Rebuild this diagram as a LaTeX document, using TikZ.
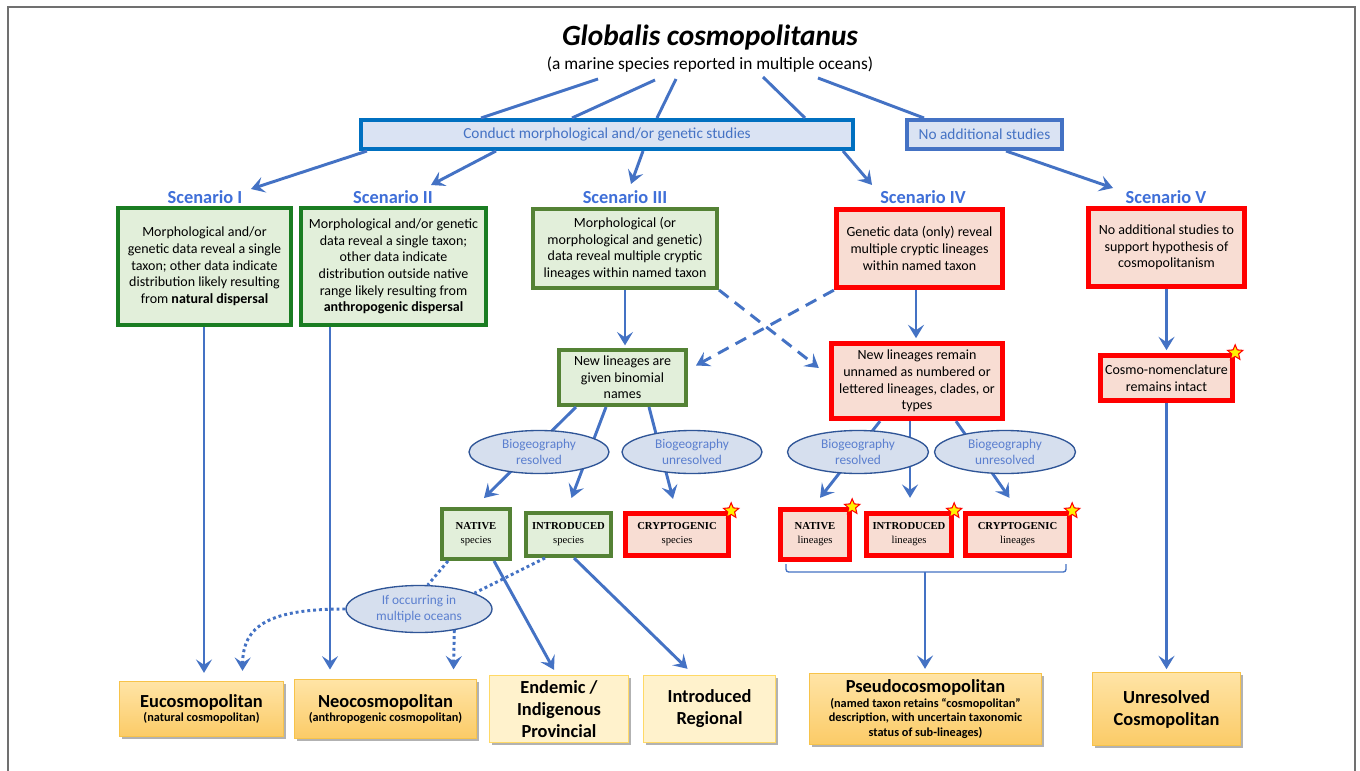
\documentclass[tikz,border=0pt]{standalone}
\usepackage{fontspec}
\setmainfont{Carlito}
\newfontfamily\timesf{Liberation Serif}
\usetikzlibrary{arrows.meta,shapes.geometric,shadows}
\definecolor{cblue}{HTML}{4472C4}
\definecolor{sblue}{HTML}{3F6FD8}
\definecolor{dblue}{HTML}{0070C0}
\definecolor{gfill}{HTML}{E2EFDA}
\definecolor{gbright}{HTML}{1A7D22}
\definecolor{golive}{HTML}{548235}
\definecolor{rfill}{HTML}{F8DDD3}
\definecolor{efill}{HTML}{D6DFEE}
\definecolor{eborder}{HTML}{2F5597}
\definecolor{etext}{HTML}{5B7FCF}
\definecolor{bfill}{HTML}{DAE3F3}
\definecolor{otop}{HTML}{FFE4A6}
\definecolor{obot}{HTML}{FBCB67}
\definecolor{oborder}{HTML}{F7C34A}
\definecolor{lfill}{HTML}{FFF2CC}
\definecolor{lborder}{HTML}{FFD966}
\definecolor{framegray}{HTML}{707070}
\begin{document}
\begin{tikzpicture}[x=0.75pt,y=-0.75pt,
  sz/.style 2 args={minimum width=#1*0.75pt,minimum height=#2*0.75pt},
  base/.style={inner sep=0pt,align=center,font=\fontsize{10.5}{12.5}\selectfont},
  gbox/.style={base,draw=gbright,line width=3pt,fill=gfill},
  obox/.style={base,draw=golive,line width=3pt,fill=gfill},
  rbox/.style={base,draw=red,line width=4pt,fill=rfill},
  bbox/.style={base,fill=bfill,line width=3pt,text=cblue,font=\fontsize{11.5}{13}\selectfont},
  ell/.style={ellipse,draw=eborder,line width=1pt,fill=efill,inner sep=0pt,align=center,text=etext,font=\fontsize{10}{12.5}\selectfont},
  sp/.style={font=\timesf\fontsize{8}{10.5}\selectfont},
  shad/.style={drop shadow={shadow xshift=1.5pt,shadow yshift=-1.5pt,opacity=0.3,fill=black}},
  fbox/.style={base,draw=oborder,line width=1pt,top color=otop,bottom color=obot,shad,font=\fontsize{9.2}{11}\selectfont\bfseries},
  lbox/.style={base,draw=lborder,line width=1pt,fill=lfill,shad},
  big/.style={font=\fontsize{13.8}{16.5}\selectfont\bfseries},
  sc/.style={text=sblue,font=\fontsize{13.8}{15}\selectfont\bfseries},
  ln/.style={draw=cblue,line width=2.2pt},
  tip/.style={-{Stealth[length=10pt,width=12pt,inset=4pt]}},
  arr/.style={ln,tip},
  darr/.style={arr,dash pattern=on 9pt off 6pt},
  dots/.style={ln,dash pattern=on 2.2pt off 2.2pt},
  st/.style={star,star points=5,star point ratio=2.2,fill=yellow,draw=red,line width=0.8pt,minimum size=12pt,inner sep=0pt}
]
\useasboundingbox (0,0) rectangle (1360,771);
\fill[white] (0,0) rectangle (1360,771);
\draw[framegray,line width=1.5pt] (7.5,800) -- (7.5,6.5) -- (1355,6.5) -- (1355,800);

% title
\node (title) at (710,38) {\fontsize{22}{26}\selectfont\bfseries\itshape Globalis cosmopolitanus};
\node (sub) at (710,65) {\fontsize{13}{15}\selectfont (a marine species reported in multiple oceans)};

% study boxes
\node[bbox,draw=dblue,sz={492}{29}] (study) at (607,134.5) {Conduct morphological and/or genetic studies};
\node[bbox,draw=cblue,sz={155}{29}] (nostudy) at (984.5,134.5) {No additional studies};

% scenario labels
\node[sc] (sc1) at (205,197) {Scenario I};
\node[sc] (sc2) at (393,197) {Scenario II};
\node[sc] (sc3) at (625,197) {Scenario III};
\node[sc] (sc4) at (923,197) {Scenario IV};
\node[sc] (sc5) at (1166,197) {Scenario V};

% scenario boxes
\node[gbox,sz={173}{117}] (b1) at (204.5,266.5) {Morphological and/or\\genetic data reveal a single\\taxon; other data indicate\\distribution likely resulting\\from \textbf{natural dispersal}};
\node[gbox,sz={185}{117}] (b2) at (393.5,266.5) {Morphological and/or genetic\\data reveal a single taxon;\\other data indicate\\distribution outside native\\range likely resulting from\\\textbf{anthropogenic dispersal}};
\node[obox,sz={184}{79}] (b3) at (625,248.5) {Morphological (or\\morphological and genetic)\\data reveal multiple cryptic\\lineages within named taxon};
\node[rbox,sz={166}{78}] (b4) at (919.5,248.5) {Genetic data (only) reveal\\multiple cryptic lineages\\within named taxon};
\node[rbox,sz={156}{78}] (b5) at (1166.5,247.5) {No additional studies to\\support hypothesis of\\cosmopolitanism};

% second row
\node[obox,sz={127}{55}] (n3) at (622.5,377.5) {New lineages are\\given binomial\\names};
\node[rbox,sz={171}{75}] (n4) at (917,381) {New lineages remain\\unnamed as numbered or\\lettered lineages, clades, or\\types};
\node[rbox,sz={132}{45}] (n5) at (1166.5,378) {Cosmo-nomenclature\\remains intact};

% species / lineages
\node[obox,sp,sz={68}{50}] (s1) at (476,534) {\textbf{NATIVE}\\species};
\node[obox,sp,sz={85}{43}] (s2) at (568.5,534.5) {\textbf{INTRODUCED}\\species};
\node[rbox,sp,sz={103}{42}] (s3) at (677,534.5) {\textbf{CRYPTOGENIC}\\species};
\node[rbox,sp,sz={69}{50}] (l1) at (815,534.5) {\textbf{NATIVE}\\lineages};
\node[rbox,sp,sz={85}{42}] (l2) at (909,534.5) {\textbf{INTRODUCED}\\lineages};
\node[rbox,sp,sz={104}{42}] (l3) at (1017.5,534.5) {\textbf{CRYPTOGENIC}\\lineages};

% bottom categories
\node[fbox,sz={164}{55}] (f1) at (201.5,709) {{\fontsize{13.8}{15}\selectfont Eucosmopolitan}\\(natural cosmopolitan)};
\node[fbox,sz={182}{59}] (f2) at (385.5,709) {{\fontsize{13.8}{15}\selectfont Neocosmopolitan}\\(anthropogenic cosmopolitan)};
\node[lbox,big,sz={139}{67}] (f3) at (559,709) {Endemic /\\Indigenous\\Provincial};
\node[lbox,big,sz={132}{67}] (f4) at (709.5,709) {Introduced\\Regional};
\node[fbox,sz={232}{71}] (f5) at (925.5,709) {{\fontsize{13.8}{15}\selectfont Pseudocosmopolitan}\\(named taxon retains “cosmopolitan”\\description, with uncertain taxonomic\\status of sub-lineages)};
\node[fbox,big,sz={148}{73}] (f6) at (1166.5,709) {Unresolved\\Cosmopolitan};

\node[ell,sz={146}{47}] (occ) at (419,609) {If occurring in\\multiple oceans};

% lines from title
\coordinate (t1) at (598,79);
\coordinate (t2) at (655,80);
\coordinate (t3) at (676,79);
\coordinate (t4) at (763,77);
\coordinate (t5) at (818,78);
\draw[ln] (t1) -- (481,0 |- study.north);
\draw[ln] (t2) -- (572,0 |- study.north);
\draw[ln] (t3) -- (657,0 |- study.north);
\draw[ln] (t4) -- (805,0 |- study.north);
\draw[ln] (t5) -- (924,0 |- nostudy.north);

% to scenarios
\coordinate (a1) at (251,189);
\coordinate (a2) at (431,185);
\coordinate (a3) at (631,184);
\coordinate (a4) at (872,185);
\coordinate (a5) at (1113,188);
\draw[arr] (367,0 |- study.south) -- (a1);
\draw[arr] (496,0 |- study.south) -- (a2);
\draw[arr] (643,0 |- study.south) -- (a3);
\draw[arr] (843,0 |- study.south) -- (a4);
\draw[arr] (1006,0 |- nostudy.south) -- (a5);

% vertical arrows
\draw[arr,shorten >=6pt] (204,0 |- b1.south) -- (204,0 |- f1.north);
\draw[arr,shorten >=7pt] (330,0 |- b2.south) -- (330,0 |- f2.north);
\draw[arr,shorten >=2pt] (625,0 |- b3.south) -- (625,0 |- n3.north);
\draw[arr,shorten >=2pt] (916,0 |- b4.south) -- (916,0 |- n4.north);
\draw[arr,shorten >=2pt] (1166.5,0 |- b5.south) -- (1166.5,0 |- n5.north);
\draw[arr,shorten >=2pt] (1166.5,0 |- n5.south) -- (1166.5,0 |- f6.north);

% dashed crossing arrows
\draw[darr] (b3.south east) -- ([shift={(-10,-13)}]n4.west);
\draw[darr] (b4.south west) -- ([shift={(8,-12)}]n3.east);

% branching arrows
\draw[arr] (576,0 |- n3.south) -- ([shift={(8,-9)}]s1.north);
\draw[arr] (606,0 |- n3.south) -- ([shift={(3,-13)}]s2.north);
\draw[arr] (649,0 |- n3.south) -- ([shift={(-4,-12)}]s3.north);
\draw[arr] (880,0 |- n4.south) -- ([shift={(5,-9)}]l1.north);
\draw[arr] (910,0 |- n4.south) -- ([shift={(1,-13)}]l2.north);
\draw[arr] (956,0 |- n4.south) -- ([shift={(-8,-13)}]l3.north);

% ellipses over the branching arrows
\node[ell,sz={140}{43}] (e1) at (539,452) {Biogeography\\resolved};
\node[ell,sz={140}{43}] (e2) at (692,452) {Biogeography\\unresolved};
\node[ell,sz={141}{43}] (e3) at (858,452) {Biogeography\\resolved};
\node[ell,sz={141}{43}] (e4) at (1005,452) {Biogeography\\unresolved};

% species to categories
\draw[arr] (494,0 |- s1.south) -- ([shift={(-5,-5)}]f3.north);
\draw[arr] (574,0 |- s2.south) -- ([shift={(-22,-6)}]f4.north);

% dotted
\draw[dots] (448,0 |- s1.south) -- (occ.70);
\draw[dots] (545,0 |- s2.south) -- (occ.16);
\draw[dots,tip] (occ.west) .. controls (270,609) and (243,625) .. ([shift={(41,-10)}]f1.north);
\draw[dots,tip] (occ.-31) -- ([shift={(68,-9.5)}]f2.north);

% bracket
\coordinate (bl) at (786,564);
\coordinate (br) at (1066,564);
\coordinate (bm) at (925,572);
\draw[cblue,line width=1pt,rounded corners=2pt] (bl) -- (786,572) -- (1066,572) -- (br);
\draw[arr,shorten >=3pt] (bm) -- (925,0 |- f5.north);

% stars
\node[st] (st1) at (s3.north east) {};
\node[st] (st2) at (l1.north east) {};
\node[st] (st3) at (l2.north east) {};
\node[st] (st4) at (l3.north east) {};
\node[st] (st5) at (n5.north east) {};
\end{tikzpicture}
\end{document}
